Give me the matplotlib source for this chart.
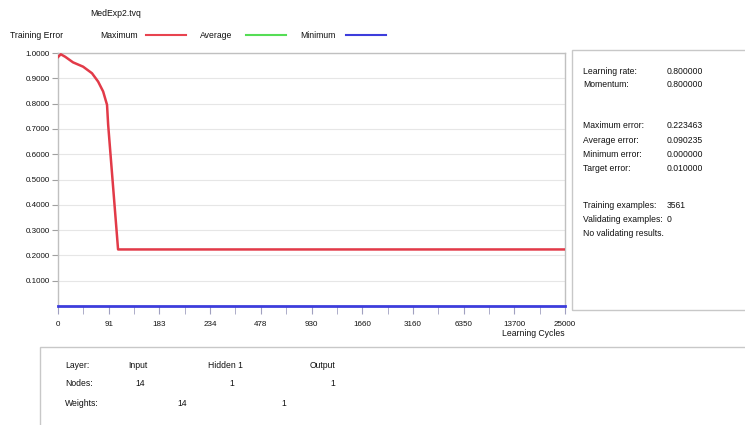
import numpy as np
import matplotlib
matplotlib.use("Agg")
import matplotlib.pyplot as plt
from matplotlib.lines import Line2D

plt.rcParams['font.family'] = ['Liberation Sans', 'DejaVu Sans']

# ---- data ----
tick_vals = [0, 91, 183, 234, 478, 930, 1660, 3160, 6350, 13700, 25000]
tick_labels = ["0", "91", "183", "234", "478", "930", "1660", "3160", "6350", "13700", "25000"]
y_ticks = [0.1, 0.2, 0.3, 0.4, 0.5, 0.6, 0.7, 0.8, 0.9, 1.0]

max_cycles = [0, 5, 13, 27, 45, 61, 72, 81, 88, 90, 108, 25000]
max_error = [0.984, 0.995, 0.985, 0.963, 0.946, 0.92, 0.887, 0.848, 0.795, 0.717, 0.2235, 0.2235]
min_cycles = [0, 25000]
min_error = [0.0, 0.0]

params_labels = ["Learning rate:", "Momentum:"]
params_values = ["0.800000", "0.800000"]
err_labels = ["Maximum error:", "Average error:", "Minimum error:", "Target error:"]
err_values = ["0.223463", "0.090235", "0.000000", "0.010000"]
ex_labels = ["Training examples:", "Validating examples:"]
ex_values = ["3561", "0"]

layers = ["Input", "Hidden 1", "Output"]
nodes = ["14", "1", "1"]
weights = ["14", "1"]

# ---- figure ----
W, H = 745, 425
fig = plt.figure(figsize=(W / 100, H / 100), dpi=100)
fig.patch.set_facecolor("white")

def fx(px):
    return px / W

def fy(py):
    return 1 - py / H

fs = 6.2
txtc = "#111111"

# main axes
left, right, top, bottom = 58, 565, 53, 306
ax = fig.add_axes([fx(left), fy(bottom), (right - left) / W, (bottom - top) / H])

pos = np.arange(len(tick_vals), dtype=float)

def fwd(x):
    return np.interp(x, tick_vals, pos)

def inv(p):
    return np.interp(p, pos, tick_vals)

ax.set_xscale('function', functions=(fwd, inv))
ax.set_xlim(0, 25000)
ax.set_ylim(0, 1.0)

ax.plot(max_cycles, max_error, color="#e23a48", lw=1.8, zorder=3,
        solid_joinstyle="round")
ax.plot(min_cycles, min_error, color="#3d3ddc", lw=2.0, zorder=4, clip_on=False)

ax.set_yticks(y_ticks)
ax.set_yticklabels(["%.4f" % v for v in y_ticks])
ax.set_xticks(tick_vals)
ax.set_xticklabels(tick_labels)
ax.set_xticks(inv(pos[:-1] + 0.5), minor=True)
ax.tick_params(axis='x', which='both', direction='out', length=6, color="#a0a0c0",
               labelsize=fs - 0.4, pad=5, labelcolor=txtc)
ax.tick_params(axis='y', which='both', direction='out', length=4, color="#a0a0a0",
               labelsize=fs - 0.4, pad=2, labelcolor=txtc)
ax.grid(axis='y', color="#e6e6e6", lw=0.8)
ax.set_axisbelow(True)
for s in ["left", "right", "top"]:
    ax.spines[s].set_color("#c0c0c0")
    ax.spines[s].set_linewidth(1.0)
ax.spines["bottom"].set_visible(False)

fig.text(fx(502), fy(333), "Learning Cycles", fontsize=fs, color=txtc, va="center")

# header
fig.text(fx(90), fy(14), "MedExp2.tvq", fontsize=fs, color=txtc, va="center")
fig.text(fx(10), fy(35), "Training Error", fontsize=fs, color=txtc, va="center")
legend_items = [("Maximum", 100, 146, "#e8434f"), ("Average", 200, 246, "#55dd55"),
                ("Minimum", 300, 346, "#3d3ddc")]
for name, tx, lx, col in legend_items:
    fig.text(fx(tx), fy(35), name, fontsize=fs, color=txtc, va="center")
    fig.add_artist(Line2D([fx(lx), fx(lx + 40)], [fy(35), fy(35)], color=col, lw=1.5,
                          transform=fig.transFigure))

# right panel
rp = plt.Rectangle((fx(572), fy(310)), fx(745) - fx(572) + 0.01, fy(50) - fy(310),
                   transform=fig.transFigure, fill=False, ec="#c8c8c8", lw=1.0)
fig.add_artist(rp)
lx, vx = 583, 667
for i, (l, v) in enumerate(zip(params_labels, params_values)):
    y = 71 + i * 13.5
    fig.text(fx(lx), fy(y), l, fontsize=fs, color=txtc, va="center")
    fig.text(fx(vx), fy(y), v, fontsize=fs, color=txtc, va="center")
for i, (l, v) in enumerate(zip(err_labels, err_values)):
    y = 126 + i * 14.3
    fig.text(fx(lx), fy(y), l, fontsize=fs, color=txtc, va="center")
    fig.text(fx(vx), fy(y), v, fontsize=fs, color=txtc, va="center")
for i, (l, v) in enumerate(zip(ex_labels, ex_values)):
    y = 206 + i * 13.5
    fig.text(fx(lx), fy(y), l, fontsize=fs, color=txtc, va="center")
    fig.text(fx(vx), fy(y), v, fontsize=fs, color=txtc, va="center")
fig.text(fx(lx), fy(234), "No validating results.", fontsize=fs, color=txtc, va="center")

# bottom panel
bp = plt.Rectangle((fx(40), fy(430)), fx(745) - fx(40) + 0.01, fy(347) - fy(430),
                   transform=fig.transFigure, fill=False, ec="#c8c8c8", lw=1.0)
fig.add_artist(bp)
fig.text(fx(65), fy(365), "Layer:", fontsize=fs, color=txtc, va="center")
fig.text(fx(65), fy(383), "Nodes:", fontsize=fs, color=txtc, va="center")
fig.text(fx(65), fy(403), "Weights:", fontsize=fs, color=txtc, va="center")
layer_x = [128, 208, 310]
node_x = [140, 232, 333]
weight_x = [182, 284]
for s, x in zip(layers, layer_x):
    fig.text(fx(x), fy(365), s, fontsize=fs, color=txtc, va="center")
for s, x in zip(nodes, node_x):
    fig.text(fx(x), fy(383), s, fontsize=fs, color=txtc, va="center", ha="center")
for s, x in zip(weights, weight_x):
    fig.text(fx(x), fy(403), s, fontsize=fs, color=txtc, va="center", ha="center")

fig.savefig("out.png", dpi=100, facecolor="white")
